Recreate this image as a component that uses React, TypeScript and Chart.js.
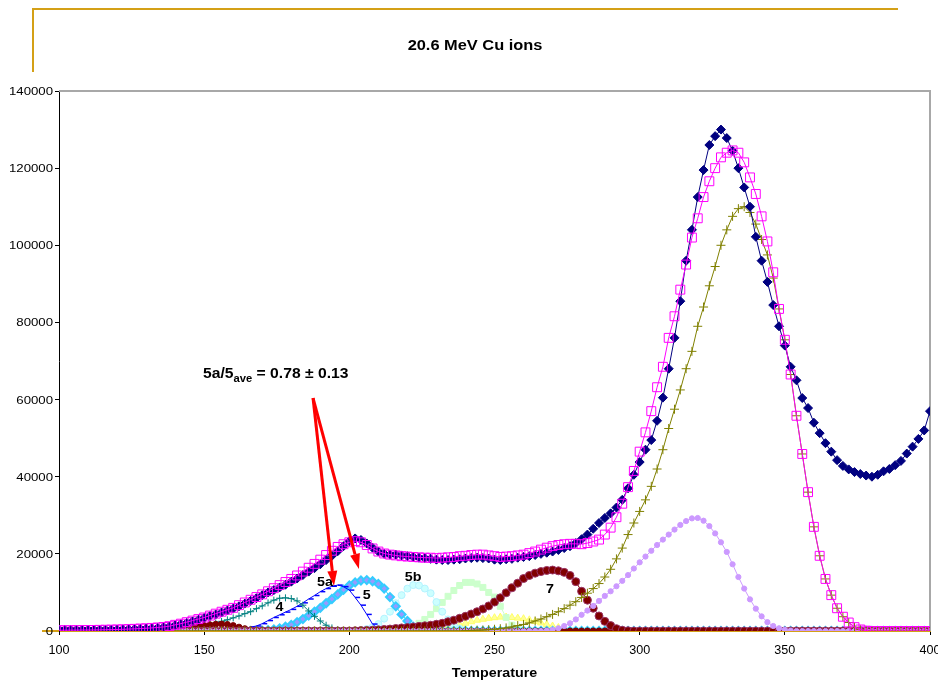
import React, { useEffect, useRef } from "react";
import { Chart, registerables } from "chart.js";

Chart.register(...registerables);

// ---------------- data ----------------
const TEMPS = [
  100, 102, 104, 106, 108, 110, 112, 114, 116, 118,
  120, 122, 124, 126, 128, 130, 132, 134, 136, 138,
  140, 142, 144, 146, 148, 150, 152, 154, 156, 158,
  160, 162, 164, 166, 168, 170, 172, 174, 176, 178,
  180, 182, 184, 186, 188, 190, 192, 194, 196, 198,
  200, 202, 204, 206, 208, 210, 212, 214, 216, 218,
  220, 222, 224, 226, 228, 230, 232, 234, 236, 238,
  240, 242, 244, 246, 248, 250, 252, 254, 256, 258,
  260, 262, 264, 266, 268, 270, 272, 274, 276, 278,
  280, 282, 284, 286, 288, 290, 292, 294, 296, 298,
  300, 302, 304, 306, 308, 310, 312, 314, 316, 318,
  320, 322, 324, 326, 328, 330, 332, 334, 336, 338,
  340, 342, 344, 346, 348, 350, 352, 354, 356, 358,
  360, 362, 364, 366, 368, 370, 372, 374, 376, 378,
  380, 382, 384, 386, 388, 390, 392, 394, 396, 398,
  400,
];

const MEASURED = [
  300, 300, 300, 300, 320, 320, 330, 340, 350, 370,
  400, 430, 470, 520, 580, 650, 730, 820, 950, 1150,
  1500, 1800, 2100, 2500, 2900, 3400, 3900, 4300, 4800, 5300,
  5800, 6400, 7100, 7800, 8500, 9300, 10000, 10600, 11300, 12000,
  12800, 13600, 14500, 15400, 16300, 17300, 18400, 19500, 20700, 22000,
  23300, 24000, 23600, 22700, 21600, 20600, 20000, 19800, 19800, 19600,
  19400, 19200, 19000, 18900, 18700, 18500, 18400, 18400, 18500, 18600,
  18800, 18900, 19000, 18900, 18800, 18500, 18400, 18600, 18700, 19000,
  19200, 19400, 19700, 20000, 20300, 20600, 21000, 21500, 22000, 22800,
  23800, 25000, 26500, 28000, 29300, 30500, 32000, 34000, 37000, 40500,
  43800, 47000, 49500, 54500, 60500, 68000, 76000, 85500, 96000, 104000,
  112500, 119500, 126000, 128300, 130000, 127800, 124500, 120000, 115000, 110000,
  102200, 96000, 90500, 84500, 79000, 74000, 68500, 65000, 60400, 57800,
  54000, 51300, 48700, 46500, 44300, 42800, 41900, 41200, 40700, 40300,
  40000, 40500, 41400, 42000, 43000, 44100, 46000, 47800, 49800, 52000,
  57000,
];

const FIT_SUM = [
  200, 200, 220, 230, 250, 250, 270, 300, 330, 360,
  400, 440, 500, 560, 640, 720, 800, 920, 1050, 1250,
  1600, 1900, 2300, 2700, 3100, 3500, 4000, 4500, 5000, 5500,
  6000, 6700, 7400, 8100, 8800, 9500, 10300, 11100, 11900, 12700,
  13500, 14400, 15400, 16400, 17400, 18500, 19700, 20800, 21800, 22500,
  23000, 23300, 23000, 22300, 21400, 20600, 20100, 19800, 19600, 19400,
  19300, 19200, 19100, 19000, 19000, 18900, 19000, 19100, 19200, 19400,
  19500, 19700, 19800, 19800, 19600, 19400, 19200, 19300, 19400, 19600,
  19800, 20200, 20600, 21100, 21600, 22000, 22300, 22500, 22600, 22600,
  22500, 22800, 23200, 23700, 25000, 26800, 29500, 33000, 37300, 41500,
  46500, 51500, 57000, 63200, 68500, 76000, 81600, 88500, 95000, 102000,
  107000, 112500, 116600, 120000, 122800, 124000, 124600, 124000, 121500, 117600,
  113300, 107500, 101000, 93000, 83500, 75500, 66500, 55800, 45900, 36000,
  27000, 19500, 13500, 9300, 5900, 3700, 2200, 1000, 400, 100,
  0, 0, 0, 0, 0, 0, 0, 0, 0, 0,
  0,
];

const PEAK_MAIN = [
  0, 0, 0, 0, 0, 0, 0, 0, 0, 0,
  0, 0, 0, 0, 0, 0, 0, 0, 0, 0,
  0, 0, 0, 0, 0, 0, 0, 0, 0, 0,
  0, 0, 0, 0, 0, 0, 0, 0, 0, 0,
  0, 0, 0, 0, 0, 0, 0, 0, 0, 0,
  0, 0, 0, 0, 0, 0, 0, 0, 0, 0,
  0, 0, 0, 0, 0, 0, 0, 0, 0, 0,
  100, 150, 200, 250, 350, 450, 600, 800, 1050, 1400,
  1700, 2100, 2600, 3100, 3700, 4300, 5000, 5800, 6700, 7600,
  8700, 9800, 11000, 12300, 14000, 16000, 18700, 21500, 25000, 28000,
  31000, 34000, 37500, 42000, 47000, 52500, 57500, 62500, 68000, 72500,
  79000, 84000, 89500, 94500, 100000, 104000, 107500, 109500, 110000, 108500,
  105500, 101500, 97500, 91500, 83500, 75500, 66500, 55800, 45900, 36000,
  27000, 19500, 13500, 9300, 5900, 3700, 2200, 1000, 400, 100,
  0, 0, 0, 0, 0, 0, 0, 0, 0, 0,
  0,
];

const PEAK_LAVENDER = [
  0, 0, 0, 0, 0, 0, 0, 0, 0, 0,
  0, 0, 0, 0, 0, 0, 0, 0, 0, 0,
  0, 0, 0, 0, 0, 0, 0, 0, 0, 0,
  0, 0, 0, 0, 0, 0, 0, 0, 0, 0,
  0, 0, 0, 0, 0, 0, 0, 0, 0, 0,
  0, 0, 0, 0, 0, 0, 0, 0, 0, 0,
  0, 0, 0, 0, 0, 0, 0, 0, 0, 0,
  0, 0, 0, 0, 0, 0, 0, 0, 0, 0,
  0, 0, 0, 0, 100, 300, 700, 1300, 2000, 3000,
  4200, 5300, 6500, 7800, 9100, 10300, 11600, 13000, 14500, 16200,
  17800, 19300, 20800, 22300, 23700, 25000, 26300, 27500, 28500, 29200,
  29300, 28600, 27200, 25300, 23000, 20500, 17300, 14000, 11000, 8200,
  5800, 3800, 2300, 1300, 700, 300, 100, 0, 0, 0,
  0, 0, 0, 0, 0, 0, 0, 0, 0, 0,
  0, 0, 0, 0, 0, 0, 0, 0, 0, 0,
  0,
];

const PEAK_7 = [
  0, 0, 0, 0, 0, 0, 0, 0, 0, 0,
  0, 0, 0, 0, 0, 0, 0, 0, 0, 0,
  0, 0, 0, 0, 0, 0, 0, 0, 0, 0,
  0, 0, 0, 0, 0, 0, 0, 0, 0, 0,
  0, 0, 0, 0, 0, 0, 0, 0, 0, 0,
  0, 50, 100, 150, 200, 300, 400, 500, 650, 800,
  900, 1050, 1200, 1350, 1500, 1750, 2000, 2400, 2800, 3300,
  3800, 4400, 5000, 5700, 6500, 7500, 8600, 9900, 11200, 12400,
  13600, 14400, 15000, 15400, 15700, 15800, 15600, 15200, 14400, 12800,
  10300, 8000, 5900, 3900, 2500, 1400, 600, 200, 50, 0,
  0, 0, 0, 0, 0, 0, 0, 0, 0, 0,
  0, 0, 0, 0, 0, 0, 0, 0, 0, 0,
  0, 0, 0, 0, 0, 0, 0, 0, 0, 0,
  0, 0, 0, 0, 0, 0, 0, 0, 0, 0,
  0, 0, 0, 0, 0, 0, 0, 0, 0, 0,
  0,
];

const PEAK_3 = [
  0, 0, 0, 0, 0, 0, 0, 0, 0, 0,
  0, 0, 0, 0, 0, 0, 0, 50, 100, 200,
  300, 500, 700, 950, 1200, 1400, 1600, 1750, 1800, 1700,
  1400, 1000, 600, 300, 100, 0, 0, 0, 0, 0,
  0, 0, 0, 0, 0, 0, 0, 0, 0, 0,
  0, 0, 0, 0, 0, 0, 0, 0, 0, 0,
  0, 0, 0, 0, 0, 0, 0, 0, 0, 0,
  0, 0, 0, 0, 0, 0, 0, 0, 0, 0,
  0, 0, 0, 0, 0, 0, 0, 0, 0, 0,
  0, 0, 0, 0, 0, 0, 0, 0, 0, 0,
  0, 0, 0, 0, 0, 0, 0, 0, 0, 0,
  0, 0, 0, 0, 0, 0, 0, 0, 0, 0,
  0, 0, 0, 0, 0, 0, 0, 0, 0, 0,
  0, 0, 0, 0, 0, 0, 0, 0, 0, 0,
  0, 0, 0, 0, 0, 0, 0, 0, 0, 0,
  0,
];

const PEAK_4 = [
  0, 0, 0, 0, 0, 0, 0, 0, 0, 0,
  0, 0, 0, 30, 50, 80, 120, 180, 250, 350,
  450, 600, 800, 1000, 1300, 1500, 1800, 2100, 2500, 2900,
  3400, 3900, 4500, 5000, 5800, 6500, 7300, 8000, 8500, 8600,
  8400, 7800, 6700, 5200, 3800, 2600, 1500, 800, 300, 100,
  0, 0, 0, 0, 0, 0, 0, 0, 0, 0,
  0, 0, 0, 0, 0, 0, 0, 0, 0, 0,
  0, 0, 0, 0, 0, 0, 0, 0, 0, 0,
  0, 0, 0, 0, 0, 0, 0, 0, 0, 0,
  0, 0, 0, 0, 0, 0, 0, 0, 0, 0,
  0, 0, 0, 0, 0, 0, 0, 0, 0, 0,
  0, 0, 0, 0, 0, 0, 0, 0, 0, 0,
  0, 0, 0, 0, 0, 0, 0, 0, 0, 0,
  0, 0, 0, 0, 0, 0, 0, 0, 0, 0,
  0, 0, 0, 0, 0, 0, 0, 0, 0, 0,
  0,
];

const PEAK_5A = [
  0, 0, 0, 0, 0, 0, 0, 0, 0, 0,
  0, 0, 0, 0, 0, 0, 0, 0, 0, 0,
  0, 0, 0, 0, 0, 0, 0, 30, 60, 120,
  200, 400, 700, 1000, 1300, 1900, 2700, 3500, 4200, 4900,
  5600, 6400, 7300, 8300, 9200, 10200, 11000, 11600, 11900, 11500,
  10600, 8700, 6700, 4300, 1800, 400, 0, 0, 0, 0,
  0, 0, 0, 0, 0, 0, 0, 0, 0, 0,
  0, 0, 0, 0, 0, 0, 0, 0, 0, 0,
  0, 0, 0, 0, 0, 0, 0, 0, 0, 0,
  0, 0, 0, 0, 0, 0, 0, 0, 0, 0,
  0, 0, 0, 0, 0, 0, 0, 0, 0, 0,
  0, 0, 0, 0, 0, 0, 0, 0, 0, 0,
  0, 0, 0, 0, 0, 0, 0, 0, 0, 0,
  0, 0, 0, 0, 0, 0, 0, 0, 0, 0,
  0, 0, 0, 0, 0, 0, 0, 0, 0, 0,
  0,
];

const PEAK_5 = [
  0, 0, 0, 0, 0, 0, 0, 0, 0, 0,
  0, 0, 0, 0, 0, 0, 0, 0, 0, 0,
  0, 0, 0, 0, 0, 0, 0, 0, 0, 0,
  0, 0, 0, 0, 50, 100, 200, 400, 700, 1100,
  1600, 2300, 3100, 4000, 5000, 6000, 7200, 8300, 9500, 10700,
  11800, 12600, 13100, 13200, 12900, 12200, 11000, 8800, 6400, 4300,
  2600, 1100, 300, 0, 0, 0, 0, 0, 0, 0,
  0, 0, 0, 0, 0, 0, 0, 0, 0, 0,
  0, 0, 0, 0, 0, 0, 0, 0, 0, 0,
  0, 0, 0, 0, 0, 0, 0, 0, 0, 0,
  0, 0, 0, 0, 0, 0, 0, 0, 0, 0,
  0, 0, 0, 0, 0, 0, 0, 0, 0, 0,
  0, 0, 0, 0, 0, 0, 0, 0, 0, 0,
  0, 0, 0, 0, 0, 0, 0, 0, 0, 0,
  0, 0, 0, 0, 0, 0, 0, 0, 0, 0,
  0,
];

const PEAK_5B = [
  0, 0, 0, 0, 0, 0, 0, 0, 0, 0,
  0, 0, 0, 0, 0, 0, 0, 0, 0, 0,
  0, 0, 0, 0, 0, 0, 0, 0, 0, 0,
  0, 0, 0, 0, 0, 0, 0, 0, 0, 0,
  0, 0, 0, 0, 0, 0, 0, 0, 0, 0,
  0, 0, 200, 500, 1000, 1800, 3200, 5000, 7200, 9300,
  11000, 11900, 11800, 11000, 9800, 7500, 5000, 3000, 1500, 600,
  200, 0, 0, 0, 0, 0, 0, 0, 0, 0,
  0, 0, 0, 0, 0, 0, 0, 0, 0, 0,
  0, 0, 0, 0, 0, 0, 0, 0, 0, 0,
  0, 0, 0, 0, 0, 0, 0, 0, 0, 0,
  0, 0, 0, 0, 0, 0, 0, 0, 0, 0,
  0, 0, 0, 0, 0, 0, 0, 0, 0, 0,
  0, 0, 0, 0, 0, 0, 0, 0, 0, 0,
  0, 0, 0, 0, 0, 0, 0, 0, 0, 0,
  0,
];

const PEAK_6 = [
  0, 0, 0, 0, 0, 0, 0, 0, 0, 0,
  0, 0, 0, 0, 0, 0, 0, 0, 0, 0,
  0, 0, 0, 0, 0, 0, 0, 0, 0, 0,
  0, 0, 0, 0, 0, 0, 0, 0, 0, 0,
  0, 0, 0, 0, 0, 0, 0, 0, 0, 0,
  0, 0, 0, 0, 0, 0, 0, 0, 200, 400,
  700, 1200, 2000, 3000, 4300, 5800, 7400, 9000, 10500, 11800,
  12600, 12600, 12200, 11300, 10000, 8800, 6400, 3500, 1500, 400,
  0, 0, 0, 0, 0, 0, 0, 0, 0, 0,
  0, 0, 0, 0, 0, 0, 0, 0, 0, 0,
  0, 0, 0, 0, 0, 0, 0, 0, 0, 0,
  0, 0, 0, 0, 0, 0, 0, 0, 0, 0,
  0, 0, 0, 0, 0, 0, 0, 0, 0, 0,
  0, 0, 0, 0, 0, 0, 0, 0, 0, 0,
  0, 0, 0, 0, 0, 0, 0, 0, 0, 0,
  0,
];

const PEAK_6A = [
  0, 0, 0, 0, 0, 0, 0, 0, 0, 0,
  0, 0, 0, 0, 0, 0, 0, 0, 0, 0,
  0, 0, 0, 0, 0, 0, 0, 0, 0, 0,
  0, 0, 0, 0, 0, 0, 0, 0, 0, 0,
  0, 0, 0, 0, 0, 0, 0, 0, 0, 0,
  0, 0, 0, 0, 0, 0, 0, 0, 0, 0,
  0, 0, 100, 250, 400, 600, 800, 1000, 1300, 1650,
  2000, 2400, 2800, 3050, 3300, 3450, 3600, 3600, 3500, 3350,
  3200, 2900, 2500, 2100, 1700, 1300, 900, 600, 300, 100,
  0, 0, 0, 0, 0, 0, 0, 0, 0, 0,
  0, 0, 0, 0, 0, 0, 0, 0, 0, 0,
  0, 0, 0, 0, 0, 0, 0, 0, 0, 0,
  0, 0, 0, 0, 0, 0, 0, 0, 0, 0,
  0, 0, 0, 0, 0, 0, 0, 0, 0, 0,
  0, 0, 0, 0, 0, 0, 0, 0, 0, 0,
  0,
];

const X_TICKS = [100, 150, 200, 250, 300, 350, 400];
const Y_TICKS = [0, 20000, 40000, 60000, 80000, 100000, 120000, 140000];

const TITLE = "20.6 MeV Cu ions";
const X_TITLE = "Temperature";
const RATIO_MAIN = "5a/5";
const RATIO_SUB = "ave";
const RATIO_REST = " = 0.78 \u00b1 0.13";

// annotation anchors in data units (temperature, counts)
const PEAK_LABELS = [
  { text: "4", x: 175.9, y: 6100 },
  { text: "5a", x: 191.6, y: 12700 },
  { text: "5", x: 206.0, y: 9300 },
  { text: "5b", x: 222.0, y: 13800 },
  { text: "7", x: 269.1, y: 10800 },
];
const RATIO_ANCHOR = { x: 149.6, y: 65600 };
const ARROW_FROM = { x: 187.5, y: 60400 };
const ARROW_TIPS = [
  { x: 194.7, y: 11700 },
  { x: 203.3, y: 16100 },
];

const FONT = '"Liberation Sans", Arial, Helvetica, sans-serif';
const GOLD = "#D4A017";

function pts(values: number[]) {
  return TEMPS.map((t, i) => ({ x: t, y: values[i] }));
}

function drawText(
  ctx: CanvasRenderingContext2D,
  text: string,
  x: number,
  y: number,
  font: string,
  align: "left" | "center" | "right",
  sx: number,
  baseline: CanvasTextBaseline = "alphabetic"
) {
  ctx.save();
  ctx.font = font;
  ctx.fillStyle = "#000";
  ctx.textAlign = "left";
  ctx.textBaseline = baseline;
  const w = ctx.measureText(text).width * sx;
  const x0 = align === "center" ? x - w / 2 : align === "right" ? x - w : x;
  ctx.translate(x0, y);
  ctx.scale(sx, 1);
  ctx.fillText(text, 0, 0);
  ctx.restore();
  return w;
}

const decorPlugin = {
  id: "decor",
  beforeDatasetsDraw(chart: any) {
    const { ctx, chartArea } = chart;
    ctx.save();
    ctx.strokeStyle = "#a8a8a8";
    ctx.lineWidth = 2;
    ctx.beginPath();
    ctx.moveTo(chartArea.left, chartArea.top);
    ctx.lineTo(chartArea.right, chartArea.top);
    ctx.lineTo(chartArea.right, chartArea.bottom);
    ctx.stroke();
    ctx.restore();
  },
  afterDraw(chart: any) {
    const { ctx, chartArea, scales } = chart;
    const xs = scales.x;
    const ys = scales.y;

    // gold frame of the slide
    ctx.save();
    ctx.strokeStyle = GOLD;
    ctx.lineWidth = 2;
    ctx.beginPath();
    ctx.moveTo(33, 72);
    ctx.lineTo(33, 9);
    ctx.lineTo(898, 9);
    ctx.stroke();
    // gold stub at the zero level
    ctx.beginPath();
    ctx.moveTo(42, ys.getPixelForValue(0));
    ctx.lineTo(chartArea.left, ys.getPixelForValue(0));
    ctx.stroke();
    ctx.restore();

    // title
    drawText(ctx, TITLE, 475, 50, `bold 14px ${FONT}`, "center", 1.17);

    // y tick labels
    Y_TICKS.forEach((v) => {
      drawText(ctx, String(v), 53, ys.getPixelForValue(v) + 4, `11px ${FONT}`, "right", 1.2);
    });
    // x tick labels
    X_TICKS.forEach((v) => {
      drawText(ctx, String(v), xs.getPixelForValue(v), 654, `12px ${FONT}`, "center", 1.05);
    });
    // x axis title
    drawText(ctx, X_TITLE, (chartArea.left + chartArea.right) / 2, 677, `bold 13px ${FONT}`, "center", 1.1);

    // peak labels
    PEAK_LABELS.forEach((p) => {
      drawText(ctx, p.text, xs.getPixelForValue(p.x), ys.getPixelForValue(p.y), `bold 13px ${FONT}`, "center", 1.1, "middle");
    });

    // ratio annotation
    const rx = xs.getPixelForValue(RATIO_ANCHOR.x);
    const ry = ys.getPixelForValue(RATIO_ANCHOR.y);
    let cx = rx;
    cx += drawText(ctx, RATIO_MAIN, cx, ry, `bold 14px ${FONT}`, "left", 1.12);
    cx += drawText(ctx, RATIO_SUB, cx, ry + 4, `bold 10px ${FONT}`, "left", 1.12);
    drawText(ctx, RATIO_REST, cx, ry, `bold 14px ${FONT}`, "left", 1.12);

    // arrows
    const fx = xs.getPixelForValue(ARROW_FROM.x);
    const fy = ys.getPixelForValue(ARROW_FROM.y);
    ctx.save();
    ctx.strokeStyle = "#ff0000";
    ctx.fillStyle = "#ff0000";
    ctx.lineWidth = 3;
    ARROW_TIPS.forEach((tip) => {
      const tx = xs.getPixelForValue(tip.x);
      const ty = ys.getPixelForValue(tip.y);
      const ang = Math.atan2(ty - fy, tx - fx);
      const headLen = 15;
      const headHalf = 5;
      const bx = tx - Math.cos(ang) * headLen;
      const by = ty - Math.sin(ang) * headLen;
      ctx.beginPath();
      ctx.moveTo(fx, fy);
      ctx.lineTo(bx, by);
      ctx.stroke();
      ctx.beginPath();
      ctx.moveTo(tx, ty);
      ctx.lineTo(bx + Math.sin(ang) * headHalf, by - Math.cos(ang) * headHalf);
      ctx.lineTo(bx - Math.sin(ang) * headHalf, by + Math.cos(ang) * headHalf);
      ctx.closePath();
      ctx.fill();
    });
    ctx.restore();
  },
};

function series(
  values: number[],
  style: string,
  radius: number,
  bg: string,
  border: string,
  line: string,
  pbw = 1
) {
  return {
    data: pts(values),
    showLine: true,
    borderColor: line,
    borderWidth: 1,
    backgroundColor: bg,
    pointStyle: style,
    pointRadius: radius,
    pointBackgroundColor: bg,
    pointBorderColor: border,
    pointBorderWidth: pbw,
    tension: 0,
    fill: false,
  };
}

export default function App() {
  const ref = useRef<HTMLCanvasElement | null>(null);

  useEffect(() => {
    if (!ref.current) return;
    const chart = new Chart(ref.current, {
      type: "scatter",
      data: {
        datasets: [
          series(FIT_SUM, "rect", 6.3, "rgba(0,0,0,0)", "#ff00ff", "#ff00ff", 1),
          series(MEASURED, "rectRot", 4.5, "#000080", "#000080", "#000080", 1),
          series(PEAK_MAIN, "cross", 4.5, "#808000", "#808000", "#808000", 1),
          series(PEAK_LAVENDER, "circle", 2.6, "#cc99ff", "#cc99ff", "#cc99ff", 1),
          series(PEAK_7, "circle", 4, "#800000", "#993366", "#800000", 1),
          series(PEAK_3, "circle", 3, "#800000", "#800000", "#800000", 1),
          series(PEAK_4, "cross", 3.5, "#008080", "#008080", "#008080", 1),
          series(PEAK_5A, "dash", 5, "#0000ff", "#0000ff", "#0000ff", 1.5),
          series(PEAK_5, "rectRot", 4, "#9999ff", "#33ccff", "#33ccff", 2),
          series(PEAK_5B, "circle", 3.5, "#ccffff", "#b3f2ff", "#ccffff", 1),
          series(PEAK_6, "rect", 4.2, "#ccffcc", "#ccffcc", "#ccffcc", 1),
          series(PEAK_6A, "triangle", 4, "#ffff99", "#ffff66", "#ffff99", 1),
        ] as any,
      },
      options: {
        responsive: false,
        animation: false,
        devicePixelRatio: 1,
        events: [],
        layout: { padding: { top: 91, right: 8, left: 0, bottom: 0 } },
        plugins: {
          legend: { display: false },
          tooltip: { enabled: false },
          title: { display: false },
        },
        scales: {
          x: {
            type: "linear",
            min: 100,
            max: 400,
            afterBuildTicks: (scale: any) => {
              scale.ticks = X_TICKS.map((v) => ({ value: v }));
            },
            afterFit: (scale: any) => {
              scale.height = 50;
            },
            ticks: { display: false },
            grid: {
              display: true,
              drawOnChartArea: false,
              drawTicks: true,
              tickLength: 4,
              color: "#000",
            },
            border: { display: true, color: GOLD, width: 1 },
          },
          y: {
            type: "linear",
            min: 0,
            max: 140000,
            afterBuildTicks: (scale: any) => {
              scale.ticks = Y_TICKS.map((v) => ({ value: v }));
            },
            afterFit: (scale: any) => {
              scale.width = 59;
            },
            ticks: { display: false },
            grid: {
              display: true,
              drawOnChartArea: false,
              drawTicks: true,
              tickLength: 4,
              color: "#000",
            },
            border: { display: true, color: "#000", width: 1 },
          },
        },
      } as any,
      plugins: [decorPlugin],
    });
    return () => chart.destroy();
  }, []);

  return (
    <div style={{ position: "fixed", left: 0, top: 0, width: 938, height: 681, background: "#fff" }}>
      <canvas ref={ref} width={938} height={681} style={{ display: "block" }} />
    </div>
  );
}
